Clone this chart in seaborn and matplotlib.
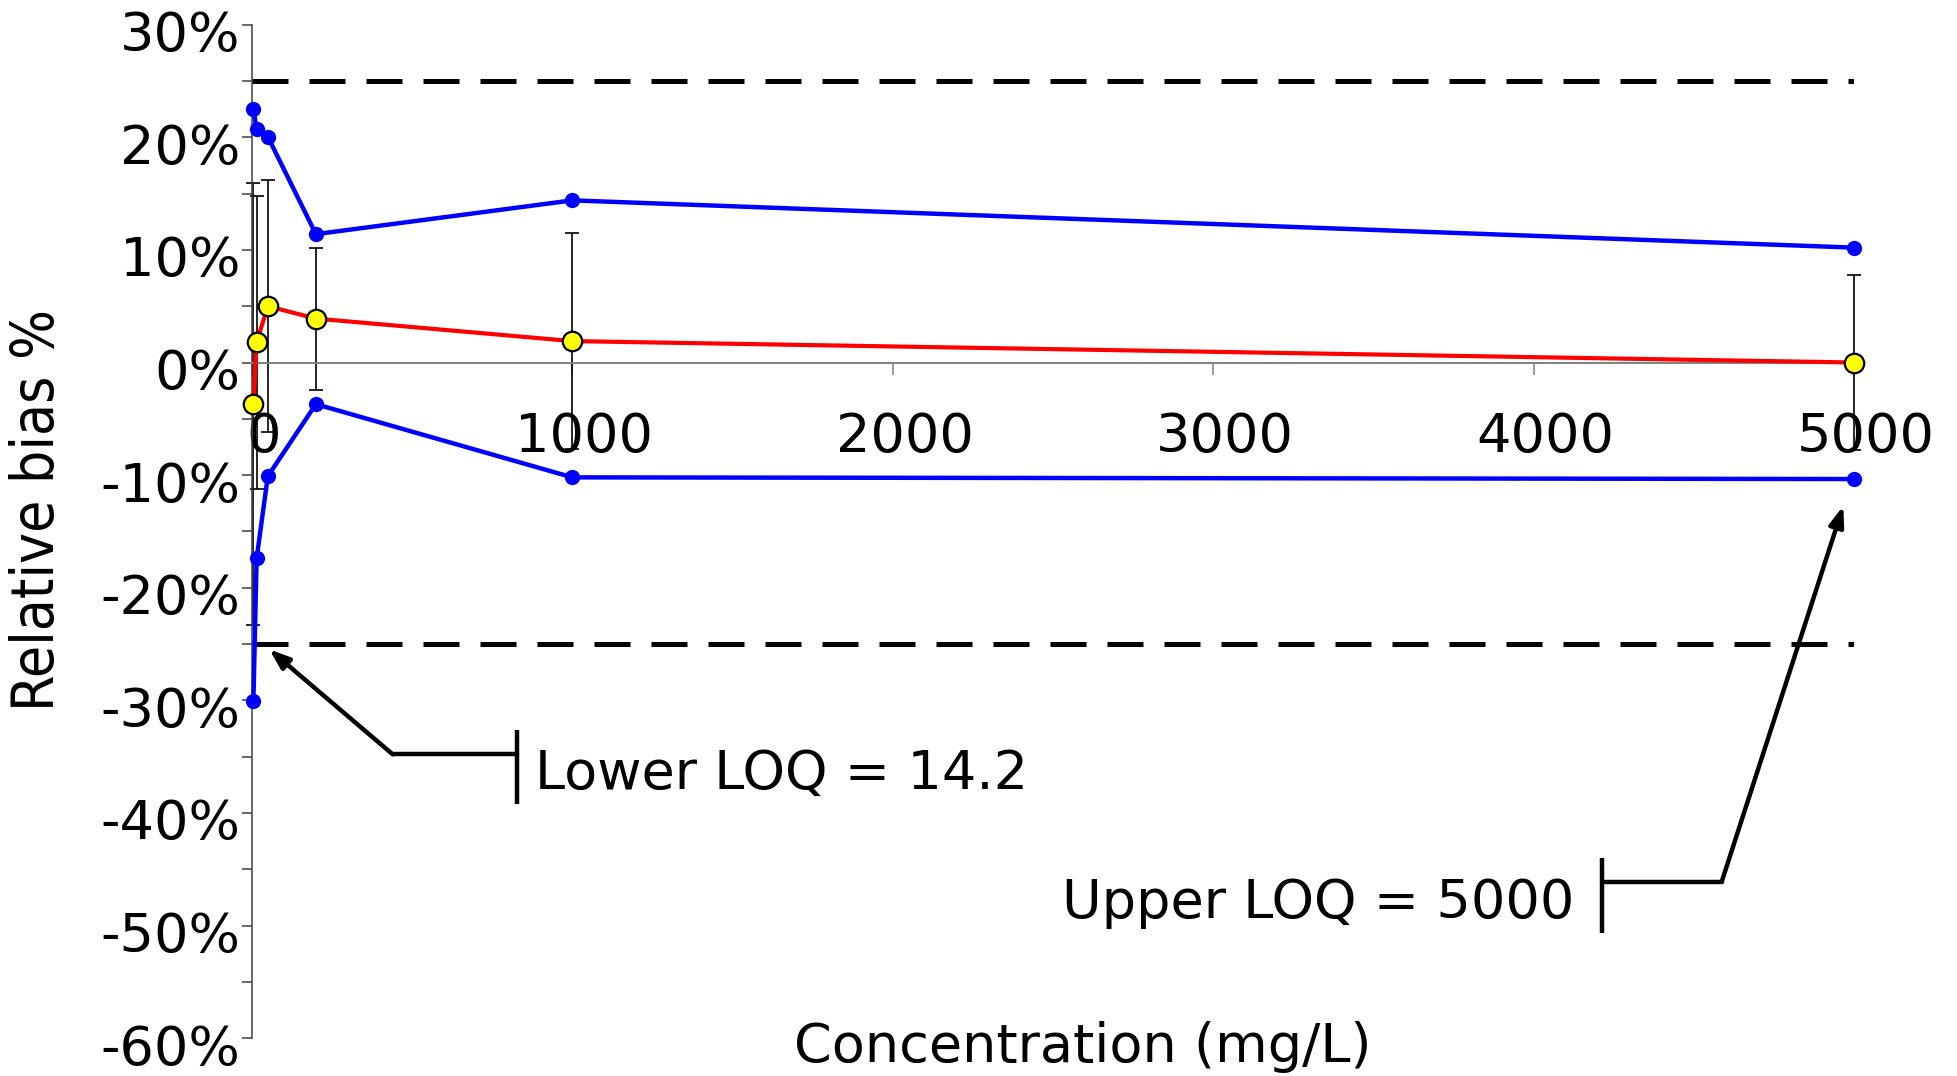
import matplotlib
matplotlib.use("Agg")
import matplotlib.pyplot as plt
import matplotlib.transforms as mtransforms
from matplotlib.ticker import MultipleLocator, FuncFormatter
import pandas as pd
import seaborn as sns

# ---------------- data ----------------
concentration = [5, 15, 50, 200, 1000, 5000]
mean_bias = [-3.7, 1.8, 5.0, 3.9, 1.9, 0.0]
bias_sd = [19.6, 13.0, 11.2, 6.3, 9.6, 7.8]
upper_limit = [22.5, 20.7, 20.05, 11.4, 14.4, 10.2]
lower_limit = [-30.1, -17.4, -10.1, -3.7, -10.2, -10.35]
acceptance_limits = [25, -25]
x_ticks = [0, 1000, 2000, 3000, 4000, 5000]
y_ticks = list(range(-60, 31, 10))
x_label = "Concentration (mg/L)"
y_label = "Relative bias %"
lower_loq_text = "Lower LOQ = 14.2"
upper_loq_text = "Upper LOQ = 5000"

df = pd.DataFrame({
    "conc": concentration,
    "mean": mean_bias,
    "sd": bias_sd,
    "upper": upper_limit,
    "lower": lower_limit,
})

sns.set_theme(style="white")
plt.rcParams["font.family"] = ["DejaVu Sans"]
plt.rcParams["axes.unicode_minus"] = False
plt.rcParams["text.color"] = "black"

fig = plt.figure(figsize=(19.58, 10.76), dpi=100)
ax = fig.add_axes([0.1286, 0.03522, 0.81844, 0.94182])

# acceptance limits (dashed)
for lim in acceptance_limits:
    ax.axhline(lim, color="black", lw=3.6, linestyle=(0, (7.2, 4.2)), zorder=1)

# error bars
eb = ax.errorbar(df["conc"], df["mean"], yerr=df["sd"], fmt="none", ecolor="black",
                 elinewidth=1.2, capsize=4.7, capthick=1.2, zorder=2)
for art in eb.get_children():
    art.set_clip_on(False)

# tolerance limits
for col in ["upper", "lower"]:
    sns.lineplot(data=df, x="conc", y=col, color="#0000ff", linewidth=3.2, marker="o",
                 markersize=11, markeredgewidth=0, markeredgecolor="#0000ff",
                 ax=ax, clip_on=False, zorder=3)
    ln = ax.lines[-1]
    ln.set_linewidth(3.2)
    ln.set_markersize(11)

# mean bias
sns.lineplot(data=df, x="conc", y="mean", color="#ff0000", linewidth=3.0, marker="o",
             markersize=14, markerfacecolor="#ffff00", markeredgecolor="black",
             markeredgewidth=1.6, ax=ax, clip_on=False, zorder=4)
ln = ax.lines[-1]
ln.set_linewidth(3.0)
ln.set_markersize(14)

# axes styling
ax.set_xlim(0, 5000)
ax.set_ylim(-60, 30)
for s in ["top", "right"]:
    ax.spines[s].set_visible(False)
ax.spines["bottom"].set_position(("data", 0))
ax.spines["bottom"].set_color("#808080")
ax.spines["bottom"].set_linewidth(1.4)
ax.spines["left"].set_color("#404040")
ax.spines["left"].set_linewidth(1.1)

ax.set_xticks(x_ticks)
ax.set_yticks(y_ticks)
ax.yaxis.set_minor_locator(MultipleLocator(5))
ax.yaxis.set_major_formatter(FuncFormatter(lambda v, p: f"{int(round(v))}%"))
ax.tick_params(axis="x", which="major", direction="out", length=8.6, width=1.1,
               color="#808080", pad=26, labelsize=39, bottom=True, labelcolor="black")
ax.tick_params(axis="y", which="both", direction="out", length=7.2, width=1.1,
               color="#404040", pad=1, left=True)
ax.tick_params(axis="y", which="major", labelsize=39, labelcolor="black")
xoff = mtransforms.ScaledTranslation(0.12, 0, fig.dpi_scale_trans)
for lab in ax.get_xticklabels():
    lab.set_transform(lab.get_transform() + xoff)
yoff = mtransforms.ScaledTranslation(0, -0.06, fig.dpi_scale_trans)
for lab in ax.get_yticklabels():
    lab.set_transform(lab.get_transform() + yoff)

ax.set_xlabel(x_label, fontsize=39, va="center", color="black")
ax.xaxis.set_label_coords(0.5187, -0.0083)
ax.set_ylabel(y_label, fontsize=42, va="center", color="black", fontstretch="condensed")
ax.yaxis.set_label_coords(-0.1337, 0.5216)

# LOQ callouts
arrow_kw = dict(arrowstyle="-|>,head_length=0.6,head_width=0.22", color="black",
                lw=3.2, mutation_scale=20, shrinkA=0, shrinkB=0)
ax.annotate("", xy=(54.6, -25.47), xytext=(439.6, -34.8), arrowprops=arrow_kw,
            annotation_clip=False)
ax.plot([439.6, 826.5], [-34.8, -34.8], color="black", lw=3.2, clip_on=False)
ax.plot([826.5, 826.5], [-32.64, -39.2], color="black", lw=3.2, clip_on=False,
        solid_capstyle="butt")
ax.text(882.9, -37.9, lower_loq_text, fontsize=39, ha="left", va="baseline", color="black")

ax.annotate("", xy=(4965.7, -12.74), xytext=(4586.3, -46.11), arrowprops=arrow_kw,
            annotation_clip=False)
ax.plot([4586.3, 4211.9], [-46.11, -46.11], color="black", lw=3.2, clip_on=False)
ax.plot([4211.9, 4211.9], [-44.03, -50.64], color="black", lw=3.2, clip_on=False,
        solid_capstyle="butt")
ax.text(4128, -49.3, upper_loq_text, fontsize=39, ha="right", va="baseline", color="black")

fig.savefig("out.png", dpi=100)
